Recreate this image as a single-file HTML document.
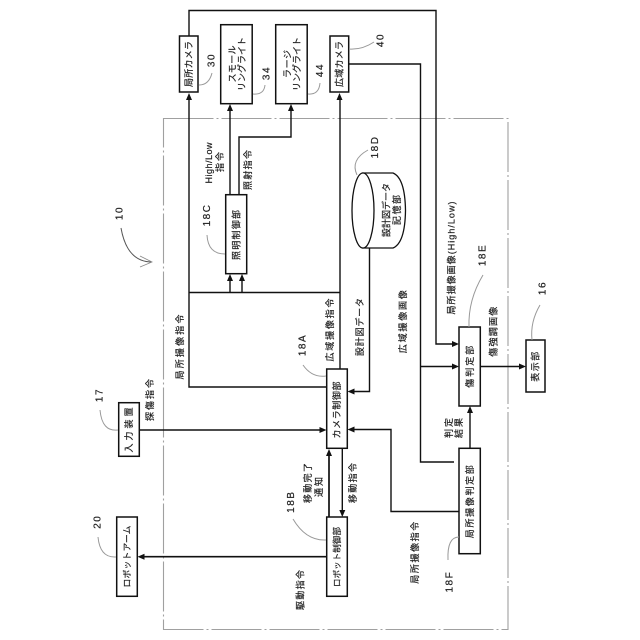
<!DOCTYPE html>
<html><head><meta charset="utf-8">
<style>
html,body{margin:0;padding:0;background:#fff}
svg{display:block}
text{font-family:"Liberation Sans","Noto Sans CJK JP",sans-serif;font-size:9px;fill:#222;stroke:#222;stroke-width:.2;text-anchor:middle;dominant-baseline:central}
.b{fill:#fff;stroke:#111;stroke-width:1.5}
.l{fill:none;stroke:#111;stroke-width:1.4}
.g{fill:none;stroke:#999;stroke-width:1}
.a{fill:#111;stroke:none}
.n text{font-size:10px}
</style></head><body>
<svg width="640" height="640" viewBox="0 0 640 640" xmlns="http://www.w3.org/2000/svg">
<rect x="163.500" y="118.500" width="344.500" height="511" fill="none" stroke="#a0a0a0" stroke-width="1.100" stroke-dasharray="50 3 2 3"/>

<!-- connectors -->
<path class="l" d="M189 36V10.500H436V344H454"/>
<path class="l" d="M189 98V387H327"/>
<path class="l" d="M230 109V195"/>
<path class="l" d="M239 195V137H291V109"/>
<path class="l" d="M189 292.500H340"/>
<path class="l" d="M230 292.500V279M242 292.500V279"/>
<path class="l" d="M340 98V369"/>
<path class="l" d="M369.500 248V391.500H353"/>
<path class="l" d="M349 64H420.500V462H454"/>
<path class="l" d="M420.500 366.500H454"/>
<path class="l" d="M480 366.500H521"/>
<path class="l" d="M470 448V412"/>
<path class="l" d="M459 511.500H391V429.500H353"/>
<path class="l" d="M139 430H321"/>
<path class="l" style="stroke-width:1.700" d="M329 517V454"/>
<path class="l" d="M342.300 448V512"/>
<path class="l" style="stroke-width:1.700" d="M327 556.700H143"/>

<!-- arrowheads -->
<path class="a" d="M189 93l-3 7h6z"/>
<path class="a" d="M230 104l-3 7h6z"/>
<path class="a" d="M291 104l-3 7h6z"/>
<path class="a" d="M339.500 93l-3 7h6z"/>
<path class="a" d="M230 274l-3 7h6z"/>
<path class="a" d="M242 274l-3 7h6z"/>
<path class="a" d="M347.500 391.500l7 -3v6z"/>
<path class="a" d="M347.500 429.500l7 -3v6z"/>
<path class="a" d="M459 344l-7 -3v6z"/>
<path class="a" d="M459 366.500l-7 -3v6z"/>
<path class="a" d="M526 366.500l-7 -3v6z"/>
<path class="a" d="M470 406l-3 7h6z"/>
<path class="a" d="M326.500 430l-7 -3v6z"/>
<path class="a" d="M329 449l-3 7h6z"/>
<path class="a" d="M342.300 517l-3 -7h6z"/>
<path class="a" d="M137.500 556.700l7 -3v6z"/>

<!-- boxes -->
<rect class="b" x="179.500" y="36" width="18.500" height="56"/>
<rect class="b" x="220.700" y="24.700" width="31.500" height="79"/>
<rect class="b" x="275.700" y="24.700" width="31.500" height="79"/>
<rect class="b" x="330" y="36" width="18.700" height="56"/>
<rect class="b" x="225.700" y="194.700" width="21" height="79"/>
<rect class="b" x="326.700" y="369" width="20.600" height="79.300"/>
<rect class="b" x="326.700" y="517" width="20.600" height="79.300"/>
<rect class="b" x="459" y="327" width="21.300" height="79"/>
<rect class="b" x="459" y="448.300" width="21.300" height="105.400"/>
<rect class="b" x="526" y="340" width="19" height="52"/>
<rect class="b" x="118.700" y="402.700" width="20.600" height="53.600"/>
<rect class="b" x="116.700" y="517" width="20.600" height="79.300"/>

<!-- cylinder -->
<path d="M362 173H393Q405 178 405.500 210.500Q405 243 393 248H362" fill="#fff" stroke="#111" stroke-width="1.300"/>
<ellipse cx="363" cy="210.500" rx="11" ry="37.500" fill="#fff" stroke="#111" stroke-width="1.300"/>

<!-- leaders -->
<path class="g" d="M199 85Q209 85 212 73"/>
<path class="g" d="M253 94Q264 95 265 85"/>
<path class="g" d="M308 94Q319 95 320 83"/>
<path class="g" d="M349 49Q362 50 374 42"/>
<path class="g" d="M357 175Q350 160 368 150"/>
<path class="g" d="M225 254Q208 254 207 235"/>
<path class="g" d="M326 376Q312 378 303 365"/>
<path class="g" d="M326 540Q306 541 293 519"/>
<path class="g" d="M118 430Q102 432 100 410"/>
<path class="g" d="M116 557Q100 558 98 537"/>
<path class="g" d="M459 537Q447 537 448 560"/>
<path class="g" d="M469 327Q468 300 483 275"/>
<path class="g" d="M532 340Q530 322 540 305"/>
<path d="M121 228Q127 262 152 262" fill="none" stroke="#555" stroke-width="1"/>
<path d="M140 256L152 262L140 267" fill="none" stroke="#888" stroke-width="0.800"/>

<!-- box labels -->
<text transform="translate(189,64) rotate(-90)" textLength="46" lengthAdjust="spacing">局所カメラ</text>
<text transform="translate(232.500,64) rotate(-90)" textLength="37" lengthAdjust="spacing">スモール</text>
<text transform="translate(242,64) rotate(-90)" textLength="54" lengthAdjust="spacing">リングライト</text>
<text transform="translate(287.500,64) rotate(-90)" textLength="28" lengthAdjust="spacing">ラージ</text>
<text transform="translate(297,64) rotate(-90)" textLength="54" lengthAdjust="spacing">リングライト</text>
<text transform="translate(339.500,64) rotate(-90)" textLength="46" lengthAdjust="spacing">広域カメラ</text>
<text transform="translate(236.500,235) rotate(-90)" textLength="50" lengthAdjust="spacing">照明制御部</text>
<text transform="translate(337,410) rotate(-90)" textLength="57" lengthAdjust="spacing">カメラ制御部</text>
<text transform="translate(337,557) rotate(-90)" textLength="60" lengthAdjust="spacing" style="font-size:8.500px">ロボット制御部</text>
<text transform="translate(127,556.500) rotate(-90)" textLength="62" lengthAdjust="spacing" style="font-size:8.800px">ロボットアーム</text>
<text transform="translate(129,430) rotate(-90)" textLength="45" lengthAdjust="spacing">入力装置</text>
<text transform="translate(470,501.700) rotate(-90)" textLength="73" lengthAdjust="spacing">局所撮像判定部</text>
<text transform="translate(470,366.700) rotate(-90)" textLength="42" lengthAdjust="spacing">傷判定部</text>
<text transform="translate(535.700,366.700) rotate(-90)" textLength="30" lengthAdjust="spacing">表示部</text>
<text transform="translate(386.500,210) rotate(-90)" textLength="54" lengthAdjust="spacing">設計図データ</text>
<text transform="translate(397,210) rotate(-90)" textLength="30" lengthAdjust="spacing">記憶部</text>

<!-- connector labels -->
<text transform="translate(209,163) rotate(-90)" textLength="41" lengthAdjust="spacing">High/Low</text>
<text transform="translate(220,162) rotate(-90)" textLength="20" lengthAdjust="spacing">指令</text>
<text transform="translate(248,170) rotate(-90)" textLength="40" lengthAdjust="spacing">照射指令</text>
<text transform="translate(180,347) rotate(-90)" textLength="65" lengthAdjust="spacing">局所撮像指令</text>
<text transform="translate(330,330) rotate(-90)" textLength="63" lengthAdjust="spacing">広域撮像指令</text>
<text transform="translate(360,327) rotate(-90)" textLength="58" lengthAdjust="spacing">設計図データ</text>
<text transform="translate(150,400) rotate(-90)" textLength="42" lengthAdjust="spacing">探傷指令</text>
<text transform="translate(308,483) rotate(-90)" textLength="40" lengthAdjust="spacing">移動完了</text>
<text transform="translate(319,487) rotate(-90)" textLength="20" lengthAdjust="spacing">通知</text>
<text transform="translate(353,483) rotate(-90)" textLength="40" lengthAdjust="spacing">移動指令</text>
<text transform="translate(300.500,590) rotate(-90)" textLength="40" lengthAdjust="spacing">駆動指令</text>
<text transform="translate(415,552.700) rotate(-90)" textLength="62" lengthAdjust="spacing">局所撮像指令</text>
<text transform="translate(449,428) rotate(-90)" textLength="20" lengthAdjust="spacing">判定</text>
<text transform="translate(459,428) rotate(-90)" textLength="20" lengthAdjust="spacing">結果</text>
<text transform="translate(451.700,258) rotate(-90)" textLength="113" lengthAdjust="spacing">局所撮像画像(High/Low)</text>
<text transform="translate(403,321.700) rotate(-90)" textLength="63" lengthAdjust="spacing">広域撮像画像</text>
<text transform="translate(493.300,331.700) rotate(-90)" textLength="50" lengthAdjust="spacing">傷強調画像</text>

<!-- reference numerals -->
<g class="n" style="letter-spacing:1.500px">
<text transform="translate(212,60) rotate(-90)">30</text>
<text transform="translate(267,73) rotate(-90)">34</text>
<text transform="translate(320.700,70) rotate(-90)">44</text>
<text transform="translate(381,40) rotate(-90)">40</text>
<text transform="translate(375.700,147) rotate(-90)">18D</text>
<text transform="translate(207.700,215) rotate(-90)">18C</text>
<text transform="translate(303,345) rotate(-90)">18A</text>
<text transform="translate(291.700,501.700) rotate(-90)">18B</text>
<text transform="translate(100,395) rotate(-90)">17</text>
<text transform="translate(98,521.700) rotate(-90)">20</text>
<text transform="translate(450,581.700) rotate(-90)">18F</text>
<text transform="translate(483,255) rotate(-90)">18E</text>
<text transform="translate(543,288) rotate(-90)">16</text>
<text transform="translate(120,213) rotate(-90)">10</text>
</g>
</svg>
</body></html>
